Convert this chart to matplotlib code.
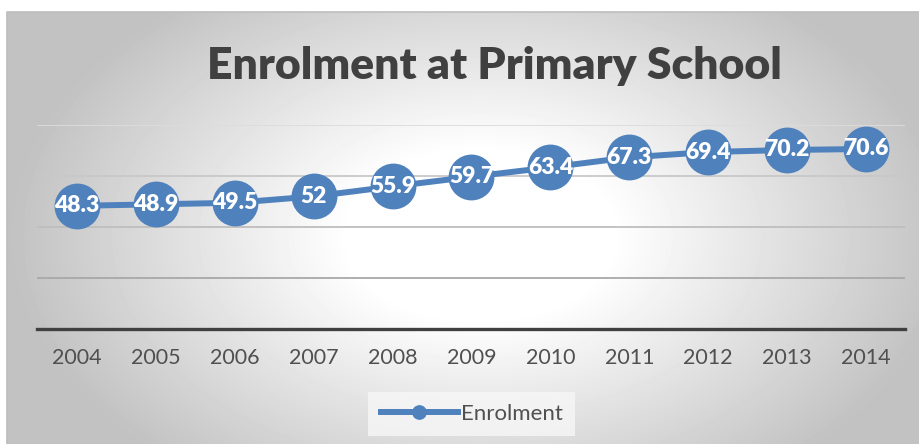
import matplotlib.pyplot as plt
import numpy as np

years = ["2004", "2005", "2006", "2007", "2008", "2009", "2010", "2011", "2012", "2013", "2014"]
enrolment = [48.3, 48.9, 49.5, 52, 55.9, 59.7, 63.4, 67.3, 69.4, 70.2, 70.6]
series_name = "Enrolment"
title = "Enrolment at Primary School"

W, H = 920, 444
blue = "#4F81BD"
plt.rcParams['font.family'] = ['Lato', 'DejaVu Sans']

fig = plt.figure(figsize=(W / 100, H / 100), dpi=100)

# radial grey background of the chart area
bg = fig.add_axes([7 / W, 0, (W - 7) / W, (H - 12) / H])
yy, xx = np.mgrid[12:H, 7:W]
d = np.sqrt(((xx - 480) / 470.0) ** 2 + ((yy - 235) / 300.0) ** 2)
shade = 1 - 0.24 * np.clip((d - 0.28) / 0.72, 0, 1)
bg.imshow(shade, cmap="gray", vmin=0, vmax=1, aspect="auto", interpolation="bilinear")
bg.set_axis_off()
fig.add_artist(plt.Line2D([7 / W, 7 / W, 1], [0, 1 - 12 / H, 1 - 12 / H],
                          color="#BDBDBD", lw=1.2, transform=fig.transFigure))

# plot area
ax = fig.add_axes([37.5 / W, (H - 329) / H, 868 / W, 204 / H])
ax.patch.set_visible(False)
x = np.arange(len(years))
ax.set_xlim(-0.5, len(years) - 0.5)
ax.set_ylim(0, 80)

for yv, c in zip([20, 40, 60, 80], ["#A8A8A8", "#BEBEBE", "#C8C8C8", "#DCDCDC"]):
    ax.axhline(yv, color=c, lw=1.3, zorder=1)
ax.axhline(0, color="#404040", lw=2.4, zorder=2, clip_on=False)

ax.plot(x, enrolment, color=blue, lw=4.3, marker="o", markersize=32,
        markerfacecolor=blue, markeredgecolor=blue, zorder=3, label=series_name)
for xi, v in zip(x, enrolment):
    ax.text(xi, v, f"{v:g}", color="white", fontsize=16.5, fontweight="heavy",
            ha="center", va="center", zorder=4)

for s in ax.spines.values():
    s.set_visible(False)
ax.set_yticks([])
ax.set_xticks(x)
ax.set_xticklabels(years, fontsize=15.5, color="#505050")
ax.tick_params(axis="x", length=0, pad=14)

fig.text(494 / W, 1 - 66 / H, title, fontsize=32, fontweight="heavy",
         color="#404040", ha="center", va="center")

leg = fig.legend(*ax.get_legend_handles_labels(), loc="center",
                 bbox_to_anchor=(471.5 / W, 1 - 414 / H), fontsize=16,
                 frameon=True, fancybox=False, handlelength=3.5, handletextpad=0.1,
                 markerscale=0.3, borderpad=0.55)
leg.get_frame().set_facecolor("#F7F7F7")
leg.get_frame().set_edgecolor("none")
for t in leg.get_texts():
    t.set_color("#505050")

fig.savefig("out.png", dpi=100)
